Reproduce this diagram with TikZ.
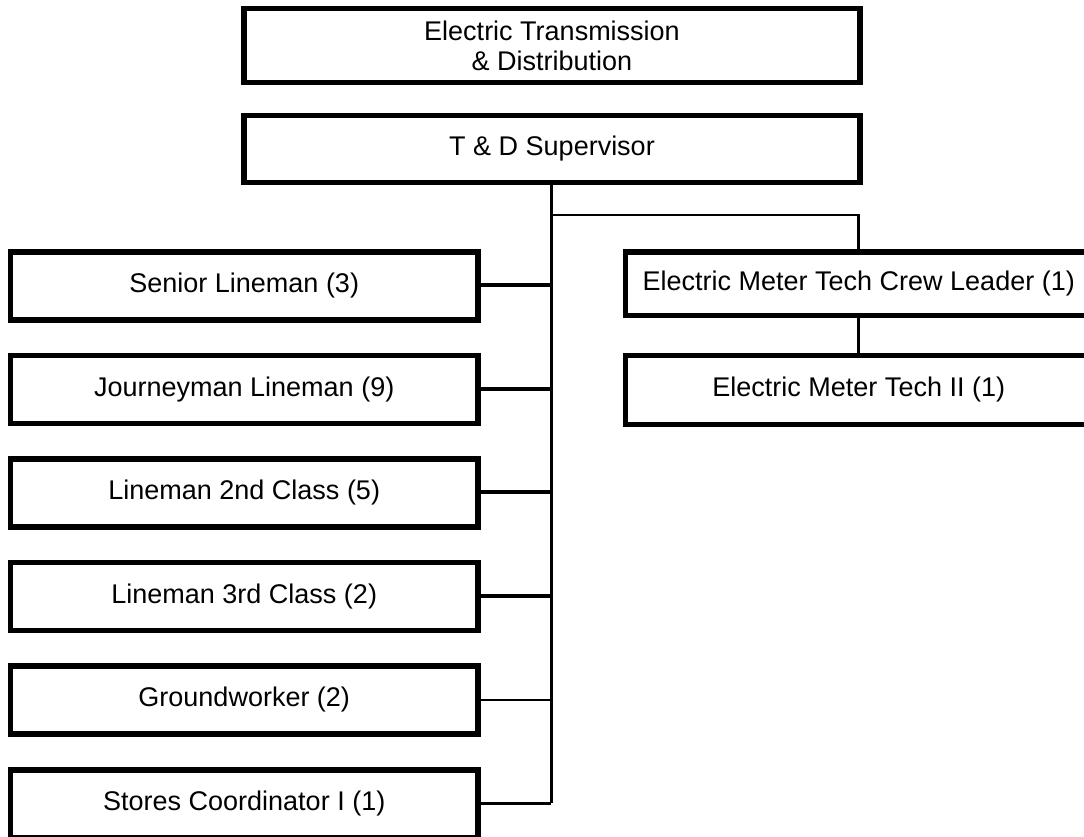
\documentclass[tikz,border=0pt]{standalone}
\usepackage{fontspec}
\setmainfont{Liberation Sans}
\begin{document}
\begin{tikzpicture}[x=1pt,y=-1pt,
  orgbox/.style={draw=black,line width=5.5pt,fill=white,inner sep=0pt,align=center,
    font=\fontsize{27}{30}\selectfont},
  leftbox/.style={orgbox,minimum width=467.5pt,minimum height=68pt},
  rightbox/.style={orgbox,minimum width=466.5pt},
  conn/.style={draw=black,line width=2.8pt}]
\useasboundingbox (0,0) rectangle (1084,837);
\clip (0,0) rectangle (1084,837);
% connectors
\coordinate (trunkbot) at (551,803);
\coordinate (branch) at (551,215);
\draw[conn] (551,182) -- (trunkbot);
\draw[conn] (branch) -| (858.75,252);
\draw[conn] (858.75,315) -- (858.75,356);
\foreach \y in {284,388,491.5,595,700,803}{\draw[conn] (478,\y) -- (551,\y);}
% boxes
\node[orgbox,minimum width=616pt,minimum height=74pt] (etd) at (552,45.5) {Electric Transmission\\\& Distribution};
\node[orgbox,minimum width=616pt,minimum height=67pt] (sup) at (552,149) {T \& D Supervisor};
\node[leftbox] (sl) at (244.25,286) {Senior Lineman (3)};
\node[leftbox] (jl) at (244.25,389.5) {Journeyman Lineman (9)};
\node[leftbox] (l2) at (244.25,493) {Lineman 2nd Class (5)};
\node[leftbox] (l3) at (244.25,596.5) {Lineman 3rd Class (2)};
\node[leftbox] (gw) at (244.25,700) {Groundworker (2)};
\node[leftbox] (sc) at (244.25,804) {Stores Coordinator I (1)};
\node[rightbox,minimum height=63.5pt] (crew) at (858.75,283.75) {Electric Meter Tech Crew Leader (1)};
\node[rightbox,minimum height=69pt] (tech) at (858.75,390) {Electric Meter Tech II (1)};
% connectors re-drawn by name (on top, matching)
\draw[conn] (sup.south) -- (sup.south |- trunkbot);
\draw[conn] (crew.south) -- (tech.north);
\draw[conn] (branch) -| (crew.north);
\foreach \n in {sl,jl,l2,l3,gw,sc}{\draw[conn] (\n.east) -- (\n.east -| trunkbot);}
\end{tikzpicture}
\end{document}
